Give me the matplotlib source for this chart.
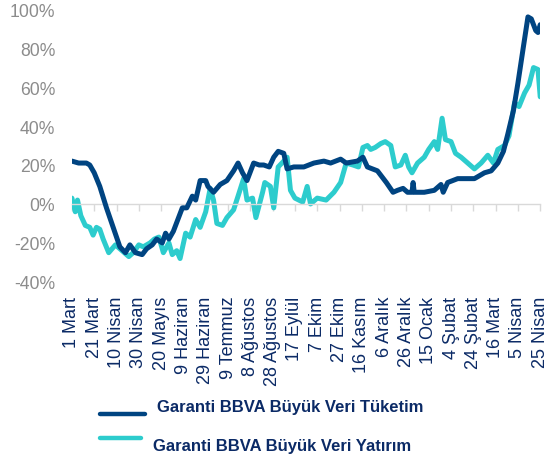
import matplotlib.pyplot as plt
from matplotlib import font_manager
from matplotlib.lines import Line2D

# Colours
NAVY = "#004481"
AQUA = "#2DCCCD"
TEXT_NAVY = "#0B2A66"
GREY = "#8C8C8C"

# x tick labels, one every 20 days from 1 March 2020 (day 0) to 25 April 2021 (day 420)
tick_days = list(range(0, 421, 20))
tick_labels = [
    "1 Mart", "21 Mart", "10 Nisan", "30 Nisan", "20 Mayıs", "9 Haziran",
    "29 Haziran", "9 Temmuz", "8 Ağustos", "28 Ağustos", "17 Eylül", "7 Ekim",
    "27 Ekim", "16 Kasım", "6 Aralık", "26 Aralık", "15 Ocak", "4 Şubat",
    "24 Şubat", "16 Mart", "5 Nisan", "25 Nisan",
]

# Garanti BBVA Büyük Veri Tüketim (% yoy)
tuketim_days = [
    0, 6, 13, 16, 20, 25, 31, 37, 43, 48, 52, 57, 63, 67, 72, 76, 81, 84, 87, 91,
    95, 99, 103, 108, 111, 115, 120, 122, 127, 133, 139, 145, 149, 153, 157, 163,
    168, 172, 177, 181, 185, 190, 193, 199, 208, 217, 226, 232, 241, 246, 256,
    261, 265, 274, 282, 288, 292, 297, 301, 305, 306, 307, 316, 325, 331, 333,
    337, 346, 355, 361, 370, 376, 382, 387, 391, 396, 400, 405, 409, 412, 416,
    418, 420,
]
tuketim = [
    22, 21, 21, 20, 16, 9, -2, -12, -22, -25, -21, -25, -26, -23, -21, -18, -20,
    -15, -18, -14, -8, -2, -2, 4, 2, 12, 12, 9, 6, 10, 12, 17, 21, 16, 12, 21,
    20, 20, 19, 24, 27, 26, 18, 19, 19, 21, 22, 21, 23, 21, 22, 24, 19, 17, 11,
    6, 7, 8, 6, 6, 11, 6, 6, 7, 10, 6, 11, 13, 13, 13, 16, 17, 21, 27, 36, 48,
    62, 81, 96, 95, 89, 88, 92,
]

# Garanti BBVA Büyük Veri Yatırım (% yoy)
yatirim_days = [
    0, 3, 5, 8, 12, 16, 19, 22, 25, 28, 33, 39, 45, 51, 55, 60, 64, 70, 74, 78,
    82, 87, 90, 94, 97, 102, 106, 111, 115, 120, 124, 127, 130, 135, 139, 145,
    149, 154, 157, 162, 165, 171, 173, 178, 181, 185, 190, 193, 196, 200, 207,
    211, 214, 220, 228, 235, 241, 246, 252, 257, 261, 265, 268, 272, 277, 281,
    286, 290, 295, 299, 302, 305, 310, 316, 320, 325, 328, 332, 335, 340, 344,
    349, 355, 361, 367, 373, 378, 382, 388, 392, 397, 401, 406, 410, 414, 418,
    420,
]
yatirim = [
    3, -4, 2, -6, -11, -12, -16, -12, -13, -18, -25, -21, -24, -27, -25, -21,
    -22, -20, -18, -17, -25, -20, -26, -24, -28, -15, -17, -8, -12, -4, 8, 2,
    -10, -11, -7, -3, 4, 13, 2, 3, -7, 6, 11, 9, -2, 19, 22, 24, 7, 3, 1, 9, 0,
    3, 2, 6, 11, 21, 20, 19, 29, 30, 28, 29, 31, 32, 30, 19, 20, 25, 19, 16, 21,
    24, 28, 32, 28, 44, 33, 32, 26, 24, 21, 18, 21, 25, 21, 28, 30, 35, 52, 50,
    57, 61, 70, 69, 55,
]

series_names = ["Garanti BBVA Büyük Veri Tüketim", "Garanti BBVA Büyük Veri Yatırım"]

plt.rcParams["font.family"] = ["Liberation Sans", "DejaVu Sans"]

# legend text in the original is a condensed bold face; use it if it is around
installed = {f.name for f in font_manager.fontManager.ttflist}
if "Liberation Sans Narrow" in installed:
    legend_font = dict(family=["Liberation Sans Narrow", "Liberation Sans"], size=13.4)
else:
    legend_font = dict(family=["Liberation Sans", "DejaVu Sans"], size=12)

fig = plt.figure(figsize=(5.49, 4.60), dpi=100)
ax = fig.add_axes([0.131, 0.385, 0.853, 0.593])

ax.plot(tuketim_days, tuketim, color=NAVY, lw=3.6, solid_joinstyle="round",
        solid_capstyle="round", zorder=3)
ax.plot(yatirim_days, yatirim, color=AQUA, lw=3.6, solid_joinstyle="round",
        solid_capstyle="round", zorder=2)

ax.set_xlim(0, 420)
ax.set_ylim(-40, 100)
ax.set_yticks(range(-40, 101, 20))
ax.set_yticklabels([f"{v}%" for v in range(-40, 101, 20)])
ax.tick_params(axis="y", length=0, pad=12, labelsize=12.7, labelcolor=GREY)

for side in ["top", "right", "left"]:
    ax.spines[side].set_visible(False)

# category axis crosses at zero, tick marks hang below it
ax.spines["bottom"].set_position(("data", 0))
ax.spines["bottom"].set_color("#D9D9D9")
ax.spines["bottom"].set_linewidth(1.0)
ax.set_xticks(tick_days)
ax.tick_params(axis="x", direction="out", length=5, width=1.0,
               color="#D9D9D9", labelbottom=False)

# labels sit at the bottom of the plot
sec = ax.secondary_xaxis(0)
sec.set_xticks(tick_days)
sec.set_xticklabels(tick_labels, rotation=90, ha="center", va="top")
sec.tick_params(length=0, pad=10, labelsize=13, labelcolor=TEXT_NAVY)
sec.spines["bottom"].set_visible(False)

# legend, drawn by hand to keep the Excel spacing
fig.add_artist(Line2D([100 / 549, 145 / 549], [1 - 415 / 460] * 2,
                      color=NAVY, lw=3.2, solid_capstyle="round"))
fig.add_artist(Line2D([100 / 549, 141 / 549], [1 - 439 / 460] * 2,
                      color=AQUA, lw=3.2, solid_capstyle="round"))
fig.text(157 / 549, 1 - 408 / 460, series_names[0], fontweight="bold",
         color=TEXT_NAVY, va="center", ha="left", **legend_font)
fig.text(153 / 549, 1 - 447 / 460, series_names[1], fontweight="bold",
         color=TEXT_NAVY, va="center", ha="left", **legend_font)

fig.savefig("out.png", dpi=100)
